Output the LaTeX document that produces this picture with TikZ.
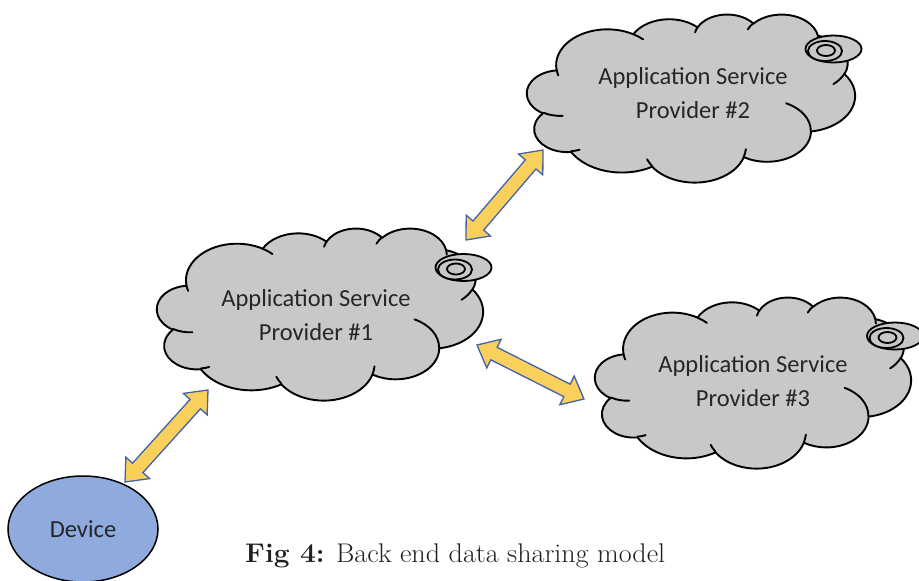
\documentclass[tikz,border=0pt]{standalone}
\usepackage{fontspec}
\newfontfamily\calibri{Carlito}
\usetikzlibrary{shapes.geometric,calc}
\definecolor{cloudgray}{RGB}{200,200,200}
\definecolor{devblue}{RGB}{143,170,220}
\definecolor{arrowfill}{RGB}{250,208,92}
\definecolor{arrowedge}{RGB}{66,99,170}
\definecolor{captiontext}{RGB}{35,31,32}
\definecolor{labeltext}{RGB}{38,38,38}

% ---- cloud outline built from elliptic arcs on a 432 x 432 grid ----
% arcs are given by geometric start angle and sweep; convert them to
% the parametric angles that TikZ's arc operation expects
\gdef\oopath{}
\gdef\oocrease{}
\newcommand\ooconvert[4]{%
  \pgfmathsetmacro\ooA{atan2(#1*sin(#3),#2*cos(#3))}%
  \pgfmathsetmacro\ooB{atan2(#1*sin(#3+#4),#2*cos(#3+#4))}%
  \pgfmathsetmacro\ooD{\ooB-\ooA}%
  \pgfmathsetmacro\ooD{\ooD+360*round((#4-\ooD)/360)}}
\newcommand\ooarc[4]{\ooconvert{#1}{#2}{#3}{#4}%
  \xdef\oopath{\oopath arc[start angle=\ooA, delta angle=\ooD, x radius=#1, y radius=#2]}}
\newcommand\oofold[6]{\ooconvert{#3}{#4}{#5}{#6}%
  \xdef\oocrease{\oocrease (#1,#2) arc[start angle=\ooA, delta angle=\ooD, x radius=#3, y radius=#4]}}
\ooarc{67.53}{91.90}{-190.48748}{123.78053}
\ooarc{53.33}{72.67}{-144.10238}{89.94523}
\ooarc{43.65}{59.45}{-145.80792}{99.72302}
\ooarc{48.57}{65.95}{-130.98607}{117.24173}
\ooarc{53.33}{72.73}{-78.70888}{109.02692}
\ooarc{67.75}{92.20}{-46.26725}{130.26900}
\ooarc{57.85}{78.67}{0.62502}{114.03333}
\ooarc{67.52}{92.15}{22.45160}{115.17255}
\ooarc{77.20}{105.43}{66.24263}{75.71102}
\ooarc{43.60}{59.18}{-274.94208}{146.73557}
\ooarc{43.45}{59.45}{-246.82850}{152.51885}
\oofold{46.93}{261.77}{43.45}{59.45}{86.7420}{26.4295}
\oofold{69.28}{348.99}{43.60}{59.18}{73.61047}{11.44747}
\oofold{164.78}{390.90}{67.52}{92.15}{137.62415}{14.0811}
\oofold{288.27}{347.51}{67.52}{92.15}{6.45327}{15.99835}
\oofold{341.29}{229.54}{57.85}{78.67}{-70.29235}{70.91737}
\oofold{417.98}{153.54}{53.33}{72.73}{30.31803}{27.7515}
\oofold{383.24}{54.26}{48.57}{65.95}{-13.74433}{14.8589}
\oofold{290.78}{39.52}{48.57}{65.95}{-149.18145}{18.19537}
\oofold{221.41}{47.20}{43.65}{59.45}{-163.49427}{17.68635}
\oofold{140.00}{51.92}{67.53}{91.90}{-66.70695}{12.31935}
\oofold{41.27}{157.89}{67.53}{91.90}{157.65435}{11.85817}

\tikzset{
  cloudbody/.style={draw=black, line width=1.9pt, fill=cloudgray, line join=round},
  cloudfold/.style={draw=black, line width=1.9pt, line cap=round},
  provider/.style={align=center, inner sep=0pt,
    font={\calibri\fontsize{24.5}{34}\selectfont}, text=labeltext},
  device/.style={ellipse, draw=black, line width=1.5pt, fill=devblue, inner sep=0pt,
    font={\calibri\fontsize{24.5}{34}\selectfont}, text=labeltext},
  badge/.style={draw=black, line width=1.8pt, fill=cloudgray},
  % fat two-headed block arrow between two points
  fatarrow/.style={draw=arrowedge, fill=arrowfill, line width=1.3pt, line join=miter,
    to path={(\tikztostart)
      -- ($(\tikztostart)!19pt!(\tikztotarget)!16pt!90:(\tikztotarget)$)
      -- ($(\tikztostart)!19pt!(\tikztotarget)!7pt!90:(\tikztotarget)$)
      -- ($(\tikztotarget)!19pt!(\tikztostart)!7pt!-90:(\tikztostart)$)
      -- ($(\tikztotarget)!19pt!(\tikztostart)!16pt!-90:(\tikztostart)$)
      -- (\tikztotarget)
      -- ($(\tikztotarget)!19pt!(\tikztostart)!16pt!90:(\tikztostart)$)
      -- ($(\tikztotarget)!19pt!(\tikztostart)!7pt!90:(\tikztostart)$)
      -- ($(\tikztostart)!19pt!(\tikztotarget)!7pt!-90:(\tikztotarget)$)
      -- ($(\tikztostart)!19pt!(\tikztotarget)!16pt!-90:(\tikztotarget)$)
      -- cycle}}
}

% cloud in the box with top-left corner (#1,#2), width #3 and height #4
\newcommand\drawcloud[4]{%
  \pgfmathsetmacro\ooxs{#3/432}\pgfmathsetmacro\ooys{-#4/432}%
  \begin{scope}[shift={(#1,#2)}, x=\ooxs pt, y=\ooys pt]
    \path[cloudbody] (39,143.7) \oopath -- cycle;
    \path[cloudfold] \oocrease;
  \end{scope}}

% the three overlapping tail ellipses at the upper right of each cloud
\newcommand\tailrings[2]{%
  \draw[badge] (#1,#2) ellipse [x radius=28, y radius=13.5];
  \draw[badge] ($(#1,#2)+(-8.5,2)$) ellipse [x radius=17, y radius=10];
  \draw[badge] ($(#1,#2)+(-7.5,1.5)$) ellipse [x radius=9, y radius=5.5];}

\begin{document}
\begin{tikzpicture}[x=1pt,y=-1pt]
\useasboundingbox (0,0) rectangle (919,581);
\fill[white] (0,0) rectangle (919,581);

% service providers
\drawcloud{157}{228}{326}{172}
\drawcloud{527}{14}{328}{168}
\drawcloud{595}{297}{316}{171}
\tailrings{463.5}{267.5}
\tailrings{833.5}{49}
\tailrings{895}{336}

\node[provider] (asp1) at (316,315) {Application Service\\Provider \#1};
\node[provider] (asp2) at (693,93.5) {Application Service\\Provider \#2};
\node[provider] (asp3) at (753,381) {Application Service\\Provider \#3};

% client device
\node[device, minimum width=150pt, minimum height=106pt] (dev) at (83,529) {Device};

% arrow end points
\coordinate (a1) at (125,482);
\coordinate (a2) at (208,390);
\coordinate (b1) at (466,240);
\coordinate (b2) at (543,150);
\coordinate (c1) at (477,345);
\coordinate (c2) at (584,399);

\draw[fatarrow] (a1) to (a2);
\draw[fatarrow] (b1) to (b2);
\draw[fatarrow] (c1) to (c2);

% caption
\node[anchor=base west, font={\fontsize{27}{30}\selectfont}, text=captiontext, inner sep=0pt]
  (caption) at (245,562) {\scalebox{1.04}[1]{\textbf{Fig 4:} Back end data sharing model}};
\end{tikzpicture}
\end{document}
